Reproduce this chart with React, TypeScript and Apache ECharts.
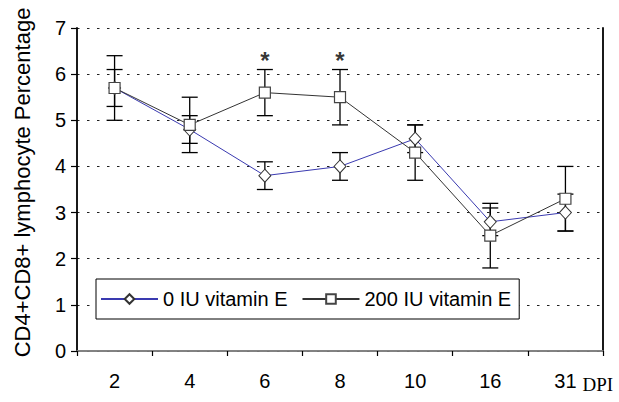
import React, { useEffect, useRef } from "react";
import * as echarts from "echarts";

const categories = ["2", "4", "6", "8", "10", "16", "31"];
const vitE0 = [5.7, 4.8, 3.8, 4.0, 4.6, 2.8, 3.0];
const vitE0Err = [0.4, 0.3, 0.3, 0.3, 0.3, 0.3, 0.4];
const vitE200 = [5.7, 4.9, 5.6, 5.5, 4.3, 2.5, 3.3];
const vitE200Err = [0.7, 0.6, 0.5, 0.6, 0.6, 0.7, 0.7];
const sigCategories = ["6", "8"];
const sigLevel = 6.3;
const seriesNames = ["0 IU vitamin E", "200 IU vitamin E"];

const SANS = "Liberation Sans, Arial, sans-serif";

function errorSeries(name: string, vals: number[], errs: number[]) {
  return {
    type: "custom",
    name: name + " error",
    z: 1,
    silent: true,
    renderItem: (params: any, api: any) => {
      const x = api.value(0);
      const y = api.value(1);
      const e = api.value(2);
      const top = api.coord([x, y + e]);
      const bot = api.coord([x, y - e]);
      const hw = 8;
      const st = { stroke: "#000", lineWidth: 1.3 };
      return {
        type: "group",
        children: [
          { type: "line", shape: { x1: top[0], y1: top[1], x2: bot[0], y2: bot[1] }, style: st },
          { type: "line", shape: { x1: top[0] - hw, y1: top[1], x2: top[0] + hw, y2: top[1] }, style: st },
          { type: "line", shape: { x1: bot[0] - hw, y1: bot[1], x2: bot[0] + hw, y2: bot[1] }, style: st },
        ],
      };
    },
    encode: { x: 0, y: 1 },
    data: vals.map((v, i) => [i, v, errs[i]]),
  };
}

export default function App() {
  const ref = useRef<HTMLDivElement>(null);
  useEffect(() => {
    if (!ref.current) return;
    const chart = echarts.init(ref.current, null, { renderer: "svg" });
    chart.setOption({
      animation: false,
      backgroundColor: "#fff",
      grid: { left: 77, right: 16, top: 28, bottom: 51, containLabel: false },
      legend: {
        data: seriesNames,
        left: 96,
        top: 279,
        orient: "horizontal",
        itemWidth: 57,
        itemHeight: 12,
        itemGap: 14,
        padding: [10, 8, 10, 4],
        backgroundColor: "#fff",
        borderColor: "#000",
        borderWidth: 1,
        textStyle: { fontFamily: SANS, fontSize: 20, color: "#000" },
      },
      xAxis: [
        {
          type: "category",
          data: categories,
          boundaryGap: true,
          name: "DPI",
          nameLocation: "end",
          nameGap: -26,
          nameTextStyle: {
            fontFamily: "Liberation Serif, Times New Roman, serif",
            fontSize: 19,
            color: "#000",
            verticalAlign: "top",
            align: "left",
            padding: [24, 0, 0, 0],
          },
          axisLine: { show: true, lineStyle: { color: "#000", width: 1.5 } },
          axisTick: { show: true, alignWithLabel: false, length: 5, lineStyle: { color: "#000", width: 1.2 } },
          axisLabel: { fontFamily: SANS, fontSize: 20, color: "#000", margin: 20 },
          splitLine: { show: false },
        },
        {
          type: "category",
          data: categories,
          position: "top",
          axisLine: { show: true, lineStyle: { color: "#999", width: 1.5 } },
          axisTick: { show: false },
          axisLabel: { show: false },
          splitLine: { show: false },
        },
      ],
      yAxis: [
        {
          type: "value",
          min: 0,
          max: 7,
          interval: 1,
          name: "CD4+CD8+ lymphocyte Percentage",
          nameLocation: "middle",
          nameGap: 44,
          nameTextStyle: { fontFamily: SANS, fontSize: 22, color: "#000", padding: [0, 0, 0, 14] },
          axisLine: { show: true, lineStyle: { color: "#000", width: 1.8 } },
          axisTick: { show: true, length: 6, lineStyle: { color: "#000", width: 1.2 } },
          axisLabel: { fontFamily: SANS, fontSize: 20, color: "#000", margin: 11 },
          splitLine: { show: true, lineStyle: { color: "#222", width: 1, type: [2.5, 7.5] } },
        },
        {
          type: "value",
          min: 0,
          max: 7,
          interval: 1,
          position: "right",
          axisLine: { show: true, lineStyle: { color: "#000", width: 1.8 } },
          axisTick: { show: false },
          axisLabel: { show: false },
          splitLine: { show: false },
        },
      ],
      series: [
        errorSeries(seriesNames[0], vitE0, vitE0Err),
        errorSeries(seriesNames[1], vitE200, vitE200Err),
        {
          type: "line",
          name: seriesNames[0],
          data: vitE0,
          z: 3,
          symbol: "diamond",
          symbolSize: [12, 13],
          lineStyle: { color: "#3a3ab0", width: 1 },
          itemStyle: { color: "#fff", borderColor: "#333", borderWidth: 1 },
          color: "#1a1a70",
        },
        {
          type: "line",
          name: seriesNames[1],
          data: vitE200,
          z: 4,
          symbol: "rect",
          symbolSize: 11,
          lineStyle: { color: "#333", width: 1 },
          itemStyle: { color: "#fff", borderColor: "#444", borderWidth: 1.2 },
          color: "#000",
        },
        {
          type: "scatter",
          name: "significance",
          data: sigCategories.map((c) => [c, sigLevel]),
          symbolSize: 1,
          itemStyle: { color: "rgba(0,0,0,0)" },
          label: {
            show: true,
            position: "inside",
            formatter: "*",
            fontFamily: SANS,
            fontSize: 24,
            fontWeight: "bold",
            color: "#000",
          },
          z: 5,
        },
      ],
    });
    return () => chart.dispose();
  }, []);
  return <div ref={ref} style={{ width: 619, height: 402, position: "absolute", left: 0, top: 0 }} />;
}
